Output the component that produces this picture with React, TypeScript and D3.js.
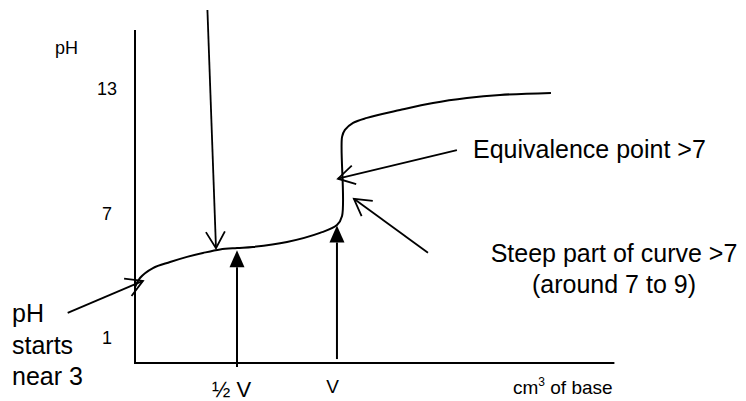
import React from "react";
import * as d3 from "d3";

// ---- data (volume in units of V, pH) ----
const volumes = [0, 0.0245, 0.088, 0.172, 0.255, 0.333, 0.417, 0.5, 0.578, 0.745, 0.907, 0.99, 1.015, 1.015, 1.029, 1.069, 1.137, 1.299, 1.461, 1.627, 1.789, 2.039];
const phValues = [3.42, 3.86, 4.34, 4.63, 4.88, 5.07, 5.24, 5.31, 5.36, 5.6, 6.04, 6.42, 6.86, 10.68, 11.02, 11.36, 11.6, 11.98, 12.32, 12.56, 12.71, 12.81];

const yTickValues = [1, 7, 13];
const yTickLabels = ["1", "7", "13"];
const xMarkValues = [0.5, 0.99];
const xMarkTips = [5.2, 6.4];
const xMarkBottoms = [-0.44, -0.06];

// open-head annotation arrows: from (volume, pH) to (volume, pH)
const arrowFromV = [0.355, -0.33, 1.578, 1.436];
const arrowFromPH = [16.82, 2.17, 10.04, 5.08];
const arrowToV = [0.397, 0.039, 0.995, 1.073];
const arrowToPH = [5.3, 3.72, 8.66, 7.69];

const W = 746;
const H = 401;
const FONT = "'Liberation Sans', Arial, Helvetica, sans-serif";

export default function App() {
  const x = d3.scaleLinear().domain([0, 1]).range([135, 339]);
  const y = d3.scaleLinear().domain([-0.25, 15.85]).range([363, 30]);

  const pts: [number, number][] = volumes.map((v, i) => [v, phValues[i]]);
  const line = d3
    .line<[number, number]>()
    .x((d) => x(d[0]))
    .y((d) => y(d[1]))
    .curve(d3.curveCatmullRom.alpha(0.5));

  const L = 19;
  const ang = (30 * Math.PI) / 180;

  const openArrows = arrowFromV.map((_, i) => {
    const x1 = x(arrowFromV[i]);
    const y1 = y(arrowFromPH[i]);
    const x2 = x(arrowToV[i]);
    const y2 = y(arrowToPH[i]);
    const back = Math.atan2(y1 - y2, x1 - x2);
    const a1 = [x2 + L * Math.cos(back + ang), y2 + L * Math.sin(back + ang)];
    const a2 = [x2 + L * Math.cos(back - ang), y2 + L * Math.sin(back - ang)];
    return { x1, y1, x2, y2, a1, a2 };
  });

  const xAxisEnd = 2.35;

  return (
    <svg
      width={W}
      height={H}
      viewBox={`0 0 ${W} ${H}`}
      style={{ position: "absolute", left: 0, top: 0, background: "#fff" }}
      fontFamily={FONT}
    >
      <rect x={0} y={0} width={W} height={H} fill="#fff" />
      {/* heading text, clipped by the top edge as in the reference */}
      <text x={38} y={-0.5} fontSize={26} fill="#000">
        Buffer solution
      </text>

      {/* axes */}
      <line x1={x(0)} y1={y(-0.25)} x2={x(0)} y2={y(15.85)} stroke="#000" strokeWidth={2} />
      <line x1={x(0) - 1} y1={y(-0.25)} x2={x(xAxisEnd)} y2={y(-0.25)} stroke="#000" strokeWidth={2} />

      {/* y label & ticks */}
      <text x={55} y={54} fontSize={18} fill="#000">
        pH
      </text>
      {yTickValues.map((v, i) => (
        <text key={v} x={107} y={y(v) + 6.5} fontSize={18} textAnchor="middle" fill="#000">
          {yTickLabels[i]}
        </text>
      ))}

      {/* x labels */}
      <text x={212} y={397} fontSize={22} fill="#000">
        ½ V
      </text>
      <text x={332.5} y={393} fontSize={19} textAnchor="middle" fill="#000">
        V
      </text>
      <text x={513} y={394} fontSize={19} fill="#000">
        cm<tspan fontSize={12} dy={-8}>3</tspan>
        <tspan dy={8}> of base</tspan>
      </text>

      {/* titration curve */}
      <path d={line(pts) || ""} fill="none" stroke="#000" strokeWidth={2} />

      {/* filled upward arrows at ½V and V */}
      {xMarkValues.map((v, i) => {
        const cx = x(v);
        const tip = y(xMarkTips[i]);
        const base = tip + 17;
        return (
          <g key={v}>
            <line x1={cx} y1={y(xMarkBottoms[i])} x2={cx} y2={base} stroke="#000" strokeWidth={2} />
            <path d={`M${cx},${tip} L${cx - 7.5},${base} L${cx + 7.5},${base} Z`} fill="#000" />
          </g>
        );
      })}

      {/* open-head annotation arrows */}
      {openArrows.map((a, i) => (
        <g key={i} stroke="#000" strokeWidth={1.8} fill="none">
          <line x1={a.x1} y1={a.y1} x2={a.x2} y2={a.y2} />
          <polyline points={`${a.a1[0]},${a.a1[1]} ${a.x2},${a.y2} ${a.a2[0]},${a.a2[1]}`} />
        </g>
      ))}

      {/* annotation texts */}
      <text x={473} y={158} fontSize={25} fill="#000">
        Equivalence point &gt;7
      </text>
      <text x={614} y={262} fontSize={25} textAnchor="middle" fill="#000">
        Steep part of curve &gt;7
      </text>
      <text x={614} y={293} fontSize={25} textAnchor="middle" fill="#000">
        (around 7 to 9)
      </text>
      <text x={12} y={322} fontSize={25} fill="#000">
        pH
      </text>
      <text x={12} y={353.5} fontSize={25} fill="#000">
        starts
      </text>
      <text x={12} y={385} fontSize={25} fill="#000">
        near 3
      </text>
    </svg>
  );
}
